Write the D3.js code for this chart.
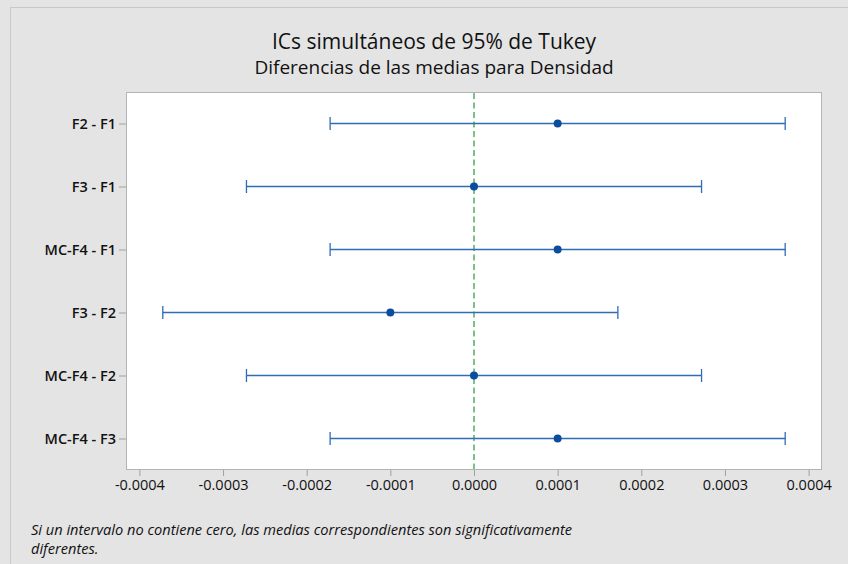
<!DOCTYPE html>
<html>
<head>
<meta charset="utf-8">
<script src="https://cdn.jsdelivr.net/npm/d3@7"></script>
<style>
  html, body { margin: 0; padding: 0; background: #e4e4e4; }
  svg { display: block; font-family: "Open Sans", "Noto Sans", sans-serif; }
</style>
</head>
<body>
<svg id="chart" width="848" height="564"></svg>
<script>
// Tukey simultaneous 95% CIs for differences of means (Densidad)
const comparisons = ["F2 - F1", "F3 - F1", "MC-F4 - F1", "F3 - F2", "MC-F4 - F2", "MC-F4 - F3"];
const meanDiff = [0.0001, 0.0, 0.0001, -0.0001, 0.0, 0.0001];
const lowerCI  = [-0.000172, -0.000272, -0.000172, -0.000372, -0.000272, -0.000172];
const upperCI  = [0.000372, 0.000272, 0.000372, 0.000172, 0.000272, 0.000372];
const xTicks   = [-0.0004, -0.0003, -0.0002, -0.0001, 0.0, 0.0001, 0.0002, 0.0003, 0.0004];

const svg = d3.select("#chart");
const W = 848, H = 564;
const plot = { left: 126, top: 92, right: 822, bottom: 470 };

// outer panel frame
svg.append("rect")
  .attr("x", 10.5).attr("y", 7.5)
  .attr("width", W + 10).attr("height", H + 10)
  .attr("fill", "#e4e4e4").attr("stroke", "#c8c8c8");

// plot area
svg.append("rect")
  .attr("x", plot.left + 0.5).attr("y", plot.top + 0.5)
  .attr("width", plot.right - plot.left - 1).attr("height", plot.bottom - plot.top - 1)
  .attr("fill", "#ffffff").attr("stroke", "#b4b4b4");

const x = d3.scaleLinear().domain([-0.000416, 0.000416]).range([plot.left, plot.right]);
const y = d3.scalePoint().domain(comparisons).range([plot.top, plot.bottom]).padding(0.5);

// x axis (hyphen-minus for negative values)
const fmt = d3.format(".4f");
const xAxis = svg.append("g")
  .attr("transform", `translate(0,${plot.bottom})`)
  .call(d3.axisBottom(x).tickValues(xTicks).tickFormat(d => fmt(d).replace("\u2212", "-"))
    .tickSize(6).tickSizeOuter(0).tickPadding(4));
xAxis.select(".domain").remove();
xAxis.selectAll(".tick line").attr("stroke", "#a0a0a0");
xAxis.selectAll(".tick text").attr("fill", "#111").attr("font-size", 14.5)
  .attr("font-family", "'Open Sans', sans-serif");

// y axis
const yAxis = svg.append("g")
  .attr("transform", `translate(${plot.left},0)`)
  .call(d3.axisLeft(y).tickSize(7).tickSizeOuter(0).tickPadding(3));
yAxis.select(".domain").remove();
yAxis.selectAll(".tick line").attr("stroke", "#a0a0a0");
yAxis.selectAll(".tick text").attr("fill", "#111").attr("font-size", 14.5)
  .attr("font-weight", 600).attr("font-family", "'Open Sans', sans-serif");

// reference line at zero
svg.append("line")
  .attr("x1", x(0)).attr("x2", x(0))
  .attr("y1", plot.top + 1).attr("y2", plot.bottom - 1)
  .attr("stroke", "#5cb26f").attr("stroke-width", 1.6)
  .attr("stroke-dasharray", "6,3.5");

const rows = comparisons.map((c, i) => ({ c, m: meanDiff[i], lo: lowerCI[i], hi: upperCI[i] }));
const g = svg.append("g");
const lineColor = "#2f6db5";

g.selectAll("line.ci").data(rows).join("line")
  .attr("class", "ci")
  .attr("x1", d => x(d.lo)).attr("x2", d => x(d.hi))
  .attr("y1", d => y(d.c)).attr("y2", d => y(d.c))
  .attr("stroke", lineColor).attr("stroke-width", 1.3);

g.selectAll("line.capL").data(rows).join("line")
  .attr("class", "capL")
  .attr("x1", d => x(d.lo)).attr("x2", d => x(d.lo))
  .attr("y1", d => y(d.c) - 6.5).attr("y2", d => y(d.c) + 6.5)
  .attr("stroke", lineColor).attr("stroke-width", 1.3);

g.selectAll("line.capR").data(rows).join("line")
  .attr("class", "capR")
  .attr("x1", d => x(d.hi)).attr("x2", d => x(d.hi))
  .attr("y1", d => y(d.c) - 6.5).attr("y2", d => y(d.c) + 6.5)
  .attr("stroke", lineColor).attr("stroke-width", 1.3);

g.selectAll("circle").data(rows).join("circle")
  .attr("cx", d => x(d.m)).attr("cy", d => y(d.c))
  .attr("r", 4).attr("fill", "#0a4d9e");

// titles
svg.append("text")
  .attr("x", 434).attr("y", 49).attr("text-anchor", "middle")
  .attr("font-size", 21).attr("font-weight", 500).attr("fill", "#111")
  .text("ICs simultáneos de 95% de Tukey");
svg.append("text")
  .attr("x", 434).attr("y", 74).attr("text-anchor", "middle")
  .attr("font-size", 19).attr("font-weight", 500).attr("fill", "#111")
  .text("Diferencias de las medias para Densidad");

// footnote
const foot = svg.append("text")
  .attr("font-size", 14.6).attr("font-style", "italic").attr("fill", "#111");
foot.append("tspan").attr("x", 31).attr("y", 535)
  .text("Si un intervalo no contiene cero, las medias correspondientes son significativamente");
foot.append("tspan").attr("x", 31).attr("y", 554)
  .text("diferentes.");
</script>
</body>
</html>
